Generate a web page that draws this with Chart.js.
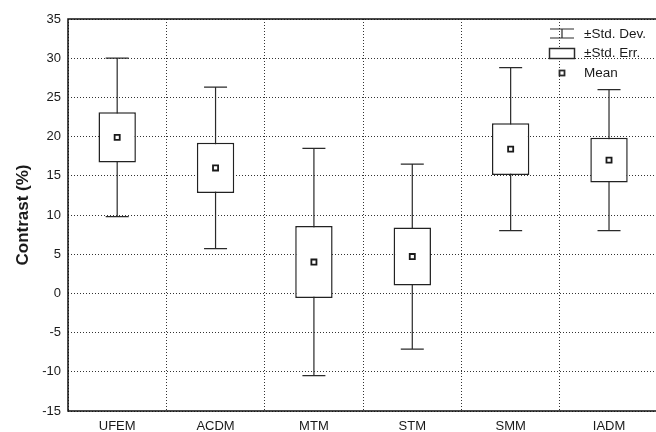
<!DOCTYPE html>
<html><head><meta charset="utf-8">
<script src="https://cdn.jsdelivr.net/npm/chart.js@4.4.0/dist/chart.umd.min.js"></script>
<style>
html,body{margin:0;padding:0;overflow:hidden;background:#fff;width:656px;height:432px}
#wrap{position:relative;width:664px;height:432px}
canvas{display:block}
</style>
</head><body><div id="wrap"><canvas id="c" width="664" height="432"></canvas></div>
<script>
const categories = ['UFEM', 'ACDM', 'MTM', 'STM', 'SMM', 'IADM'];
const means  = [19.9, 16.0, 4.0, 4.7, 18.4, 17.0];
const stdErr = [3.2, 3.2, 4.6, 3.7, 3.3, 2.85];
const stdDev = [10.1, 10.3, 14.5, 11.8, 10.4, 9.0];
const yMin = -15, yMax = 35, yStep = 5;
const legendLabels = ['±Std. Dev.', '±Std. Err.', 'Mean'];
const yTitle = 'Contrast (%)';

const FONT = '"Liberation Sans", Arial, Helvetica, sans-serif';
const INK = '#1a1a1a';

const whiskerPlugin = {
  id: 'whiskers',
  beforeDatasetsDraw(chart) {
    const {ctx, scales: {x, y}} = chart;
    ctx.save();
    ctx.strokeStyle = '#2a2a2a';
    ctx.lineWidth = 1.2;
    const capHalf = 11.5;
    means.forEach((m, i) => {
      const px = x.getPixelForValue(i);
      const yt = y.getPixelForValue(m + stdDev[i]);
      const yb = y.getPixelForValue(m - stdDev[i]);
      ctx.beginPath();
      ctx.moveTo(px, yt); ctx.lineTo(px, yb);
      ctx.moveTo(px - capHalf, yt); ctx.lineTo(px + capHalf, yt);
      ctx.moveTo(px - capHalf, yb); ctx.lineTo(px + capHalf, yb);
      ctx.stroke();
    });
    ctx.restore();
  }
};

const framePlugin = {
  id: 'frame',
  afterDraw(chart) {
    const {ctx, chartArea: a} = chart;
    ctx.save();
    ctx.strokeStyle = '#111';
    ctx.lineWidth = 1.5;
    ctx.beginPath();
    ctx.moveTo(a.right, a.top); ctx.lineTo(a.left, a.top);
    ctx.lineTo(a.left, a.bottom); ctx.lineTo(a.right, a.bottom);
    ctx.stroke();

    // legend
    const lx = 562, tx = 584;
    const rows = [34, 53, 73];
    ctx.strokeStyle = '#2a2a2a';
    ctx.lineWidth = 1.2;
    ctx.beginPath();
    ctx.moveTo(lx - 12, 29); ctx.lineTo(lx + 12, 29);
    ctx.moveTo(lx - 12, 38); ctx.lineTo(lx + 12, 38);
    ctx.moveTo(lx, 29); ctx.lineTo(lx, 38);
    ctx.stroke();
    ctx.fillStyle = '#fff';
    ctx.lineWidth = 1.5;
    ctx.fillRect(lx - 12.5, 48.5, 25, 10);
    ctx.strokeRect(lx - 12.5, 48.5, 25, 10);
    ctx.lineWidth = 1.8;
    ctx.fillRect(lx - 2.5, 70.5, 5, 5);
    ctx.strokeRect(lx - 2.5, 70.5, 5, 5);
    ctx.fillStyle = INK;
    ctx.font = '13.5px ' + FONT;
    ctx.textBaseline = 'middle';
    ctx.textAlign = 'left';
    legendLabels.forEach((t, i) => ctx.fillText(t, tx, rows[i]));
    ctx.restore();
  }
};

new Chart(document.getElementById('c'), {
  data: {
    labels: categories,
    datasets: [
      {
        type: 'line',
        label: 'Mean',
        data: means,
        showLine: false,
        pointStyle: 'rect',
        pointRadius: 3.6,
        pointBackgroundColor: '#fff',
        pointBorderColor: '#1a1a1a',
        pointBorderWidth: 1.8,
        order: 0
      },
      {
        type: 'bar',
        label: '±Std. Err.',
        data: means.map((m, i) => [m - stdErr[i], m + stdErr[i]]),
        backgroundColor: '#fff',
        borderColor: '#222',
        borderWidth: 1.5,
        borderSkipped: false,
        categoryPercentage: 1,
        barPercentage: 0.38,
        order: 1
      }
    ]
  },
  options: {
    responsive: false,
    animation: false,
    devicePixelRatio: 1,
    layout: {padding: {left: 0, right: 4, top: 19, bottom: 0}},
    plugins: {legend: {display: false}, tooltip: {enabled: false}},
    scales: {
      x: {
        type: 'category',
        offset: true,
        grid: {offset: true, color: '#333', lineWidth: 1, drawTicks: false},
        border: {display: false, dash: [1, 2]},
        ticks: {color: INK, font: {family: FONT, size: 13}, padding: 8, maxRotation: 0},
        afterFit: s => { s.height = 21; }
      },
      y: {
        min: yMin, max: yMax,
        grid: {color: '#333', lineWidth: 1, drawTicks: false},
        border: {display: false, dash: [1, 2]},
        ticks: {stepSize: yStep, color: INK, font: {family: FONT, size: 13}, padding: 7},
        title: {display: true, text: yTitle, color: INK, font: {family: FONT, size: 17, weight: 'bold'}, padding: {top: 13, bottom: 0}},
        afterFit: s => { s.width = 68; }
      }
    }
  },
  plugins: [whiskerPlugin, framePlugin]
});
</script>
</body></html>
